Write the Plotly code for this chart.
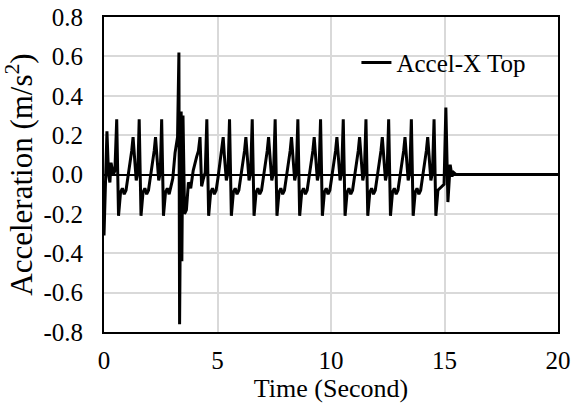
import plotly.graph_objects as go

# Accel-X Top record
time_s = [
    0.00, 0.13, 0.20, 0.26, 0.31, 0.41, 0.48,
    0.56, 0.64, 0.73, 0.81, 0.89, 0.97, 1.06, 1.14, 1.22, 1.28, 1.33, 1.42, 1.49,
    1.55, 1.63, 1.72, 1.80, 1.88, 1.96, 2.05, 2.13, 2.21, 2.27, 2.32, 2.41, 2.48,
    2.54, 2.62, 2.71, 2.79, 2.87, 2.95, 3.03, 3.13, 3.24,
    3.30, 3.33, 3.40, 3.43, 3.48, 3.55, 3.63, 3.72, 3.82, 3.93, 4.08, 4.16, 4.23, 4.30, 4.38, 4.46,
    4.53, 4.61, 4.70, 4.78, 4.86, 4.94, 5.03, 5.11, 5.19, 5.25, 5.30, 5.39, 5.46,
    5.53, 5.61, 5.70, 5.78, 5.86, 5.94, 6.03, 6.11, 6.19, 6.25, 6.30, 6.39, 6.46,
    6.53, 6.61, 6.70, 6.78, 6.86, 6.94, 7.03, 7.11, 7.19, 7.25, 7.30, 7.39, 7.47,
    7.54, 7.62, 7.71, 7.79, 7.87, 7.95, 8.04, 8.12, 8.20, 8.26, 8.31, 8.40, 8.47,
    8.54, 8.62, 8.71, 8.79, 8.87, 8.95, 9.04, 9.12, 9.20, 9.26, 9.31, 9.40, 9.47,
    9.54, 9.62, 9.71, 9.79, 9.87, 9.95, 10.04, 10.12, 10.20, 10.26, 10.31, 10.40, 10.47,
    10.54, 10.62, 10.71, 10.79, 10.87, 10.95, 11.04, 11.12, 11.20, 11.26, 11.31, 11.40, 11.47,
    11.54, 11.62, 11.71, 11.79, 11.87, 11.95, 12.04, 12.12, 12.20, 12.26, 12.31, 12.40, 12.47,
    12.54, 12.62, 12.71, 12.79, 12.87, 12.95, 13.04, 13.12, 13.20, 13.26, 13.31, 13.40, 13.47,
    13.54, 13.62, 13.71, 13.79, 13.87, 13.95, 14.04, 14.12, 14.20, 14.26, 14.31, 14.40, 14.47,
    14.54, 14.62, 14.71, 14.80, 14.90, 14.98,
    15.06, 15.15, 15.25, 15.33, 15.40, 15.50, 20.00,
]
accel_x_top = [
    -0.31, 0.22, 0.00, -0.04, 0.06, 0.00, 0.02,
    0.28, -0.21, -0.09, -0.07, -0.10, -0.08, -0.01, 0.07, 0.12, 0.19, 0.10, -0.03, 0.01,
    0.28, -0.21, -0.09, -0.07, -0.10, -0.08, -0.01, 0.07, 0.12, 0.19, 0.10, -0.03, 0.01,
    0.28, -0.21, -0.09, -0.07, -0.10, -0.06, -0.02, 0.11, 0.19,
    0.62, -0.76, 0.32, -0.44, 0.30, -0.20, -0.18, -0.04, -0.07, 0.02, 0.09, 0.12, 0.19, -0.06, -0.02, 0.01,
    0.28, -0.21, -0.09, -0.07, -0.10, -0.08, -0.01, 0.07, 0.12, 0.19, 0.10, -0.03, 0.01,
    0.28, -0.21, -0.09, -0.07, -0.10, -0.08, -0.01, 0.07, 0.12, 0.19, 0.10, -0.03, 0.01,
    0.28, -0.21, -0.09, -0.07, -0.10, -0.08, -0.01, 0.07, 0.12, 0.19, 0.10, -0.03, 0.01,
    0.28, -0.21, -0.09, -0.07, -0.10, -0.08, -0.01, 0.07, 0.12, 0.19, 0.10, -0.03, 0.01,
    0.28, -0.21, -0.09, -0.07, -0.10, -0.08, -0.01, 0.07, 0.12, 0.19, 0.10, -0.03, 0.01,
    0.28, -0.21, -0.09, -0.07, -0.10, -0.08, -0.01, 0.07, 0.12, 0.19, 0.10, -0.03, 0.01,
    0.28, -0.21, -0.09, -0.07, -0.10, -0.08, -0.01, 0.07, 0.12, 0.19, 0.10, -0.03, 0.01,
    0.28, -0.21, -0.09, -0.07, -0.10, -0.08, -0.01, 0.07, 0.12, 0.19, 0.10, -0.03, 0.01,
    0.28, -0.21, -0.09, -0.07, -0.10, -0.08, -0.01, 0.07, 0.12, 0.19, 0.10, -0.03, 0.01,
    0.28, -0.21, -0.09, -0.07, -0.10, -0.08, -0.01, 0.07, 0.12, 0.19, 0.10, -0.03, 0.01,
    0.28, -0.21, -0.08, -0.07, -0.06, -0.05,
    0.34, -0.14, 0.05, -0.01, 0.01, 0.00, 0.00,
]

x_ticks = [0, 5, 10, 15, 20]
y_ticks = [-0.8, -0.6, -0.4, -0.2, 0.0, 0.2, 0.4, 0.6, 0.8]
y_tick_text = ["-0.8", "-0.6", "-0.4", "-0.2", "0.0", "0.2", "0.4", "0.6", "0.8"]

font = "Liberation Serif, Times New Roman, serif"

fig = go.Figure()
fig.add_trace(go.Scatter(x=time_s, y=accel_x_top, mode="lines",
                         name="Accel-X Top",
                         line=dict(color="black", width=3)))

fig.update_layout(
    width=574, height=405,
    margin=dict(l=104, r=16, t=17, b=73),
    paper_bgcolor="white", plot_bgcolor="white",
    font=dict(family=font, size=25, color="black"),
    showlegend=True,
    legend=dict(x=0.556, y=0.855, xanchor="left", yanchor="middle",
                bgcolor="rgba(0,0,0,0)", font=dict(size=25)),
)
fig.update_xaxes(
    range=[0, 20], tickvals=x_ticks, ticks="", ticklabelstandoff=5,
    showgrid=True, gridcolor="#d9d9d9", gridwidth=1.5,
    showline=True, linecolor="black", linewidth=2, mirror=True,
    zeroline=False, automargin=False,
    title=dict(text="Time (Second)", standoff=0, font=dict(size=26)),
)
fig.update_yaxes(
    range=[-0.8, 0.8], tickvals=y_ticks, ticktext=y_tick_text, ticks="",
    ticklabelstandoff=14, ticklabeloverflow="allow",
    showgrid=True, gridcolor="#d9d9d9", gridwidth=1.5,
    showline=True, linecolor="black", linewidth=2, mirror=True,
    zeroline=True, zerolinecolor="black", zerolinewidth=2, automargin=False,
    title=dict(text="Acceleration (m/s<sup>2</sup>)", standoff=8, font=dict(size=31)),
)

# drop the browser's default 8px body margin so the figure sits at the page corner
fig.write_html("out.html", config={"displayModeBar": False},
               post_script="document.body.style.margin = '0px';")
